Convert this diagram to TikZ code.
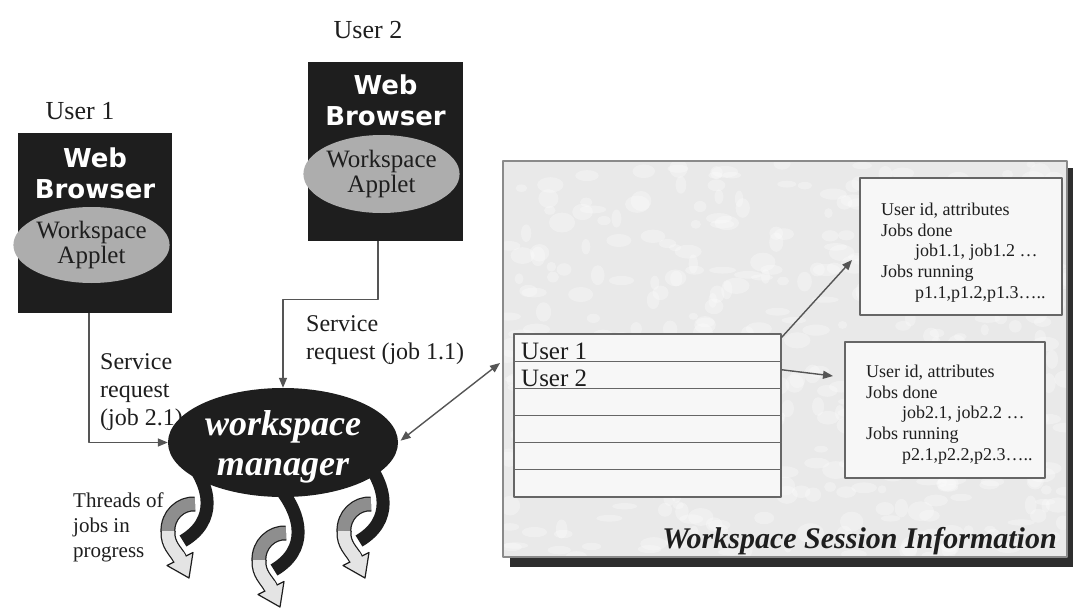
\documentclass[tikz,border=0pt]{standalone}
\usepackage{fontspec}
\setmainfont{Liberation Serif}
\newfontfamily\websans{DejaVu Sans}
\usetikzlibrary{arrows.meta,shapes.geometric}

\definecolor{ink}{HTML}{1E1E1E}
\definecolor{wire}{HTML}{555555}
\definecolor{appletgray}{HTML}{ADADAD}
\definecolor{ribbon}{HTML}{8E8E8E}
\definecolor{ribbonlight}{HTML}{E4E4E4}
\definecolor{panelfill}{HTML}{E9E9E9}
\definecolor{panelline}{HTML}{8A8A8A}
\definecolor{panelshadow}{HTML}{2E2E2E}
\definecolor{cellfill}{HTML}{F7F7F7}

\tikzset{
  browser/.style={rectangle, fill=ink, inner sep=0pt},
  webtitle/.style={text=white, font=\websans\bfseries\fontsize{26}{31}\selectfont,
    align=center, inner sep=0pt, anchor=north},
  applet/.style={ellipse, fill=appletgray, inner sep=0pt, align=center, text=ink,
    font=\fontsize{25}{25}\selectfont},
  userlabel/.style={font=\fontsize{26}{26}\selectfont, text=ink, inner sep=0pt, anchor=base},
  note/.style={font=\fontsize{24}{28}\selectfont, text=ink, align=left, inner sep=0pt,
    anchor=north west},
  threadnote/.style={font=\fontsize{21}{25}\selectfont, text=ink, align=left, inner sep=0pt,
    anchor=north west},
  wire/.style={draw=wire, line width=1.4pt},
  tipend/.style={-{Triangle[length=10pt,width=8pt]}},
  tipboth/.style={{Triangle[length=10pt,width=8pt]}-{Triangle[length=10pt,width=8pt]}},
  manager/.style={ellipse, fill=ink, minimum width=230pt, minimum height=109pt, inner sep=0pt},
  managertext/.style={text=white, font=\bfseries\itshape\fontsize{36}{40}\selectfont,
    align=center, inner sep=0pt},
  tabrow/.style={rectangle, draw=black!60, line width=1.2pt, fill=cellfill,
    minimum width=267pt, minimum height=27.17pt, inner sep=0pt},
  rowtext/.style={font=\fontsize{25}{25}\selectfont, text=ink, inner sep=0pt, anchor=base west},
  infobox/.style={rectangle, draw=black!60, line width=1.2pt, fill=cellfill, inner sep=0pt},
  infotext/.style={font=\fontsize{18}{20.8}\selectfont, text=ink, align=left, inner sep=0pt,
    anchor=north west},
  jobthread/.pic={
    % back (gray) side of the twisted ribbon
    \draw[line width=15pt, ink] (-2,7) .. controls (-16,6) and (-30,18) .. (-29,35);
    \draw[line width=12.5pt, ribbon] (-2,7) .. controls (-16,6) and (-30,18) .. (-29,35);
    % front (light) side ending in the arrow head
    \draw[line width=15pt, ink] (-29,34) .. controls (-30,48) and (-21,54) .. (-17,62);
    \draw[line width=12.5pt, ribbonlight] (-29,34) .. controls (-30,48) and (-21,54) .. (-17,62);
    \filldraw[fill=ribbonlight, draw=ink, line width=1.2pt]
      (-4,55.5) -- (-8,81) -- (-30,68.5) -- cycle;
    \draw[line width=12.5pt, ribbonlight] (-19,58) -- (-16,64);
    % black band hanging from the manager
    \draw[line width=13pt, ink] (-10,-40) .. controls (15,-10) and (20,24) .. (-14,44);
  }
}

\begin{document}
\begin{tikzpicture}[x=1pt, y=-1pt, line join=round]
  \useasboundingbox (0,0) rectangle (1073,610);
  \fill[white] (0,0) rectangle (1073,610);

  % session information panel with drop shadow and faintly mottled surface
  \fill[panelshadow] (510,168) rectangle (1073,567);
  \node[fill=panelfill, minimum width=564pt, minimum height=396pt, inner sep=0pt]
    (panel) at (785,359) {};
  \begin{scope}
    \clip (panel.north west) rectangle (panel.south east);
    \pgfmathsetseed{12}
    \foreach \i in {1,...,420}{
      \pgfmathsetmacro\px{503+564*rnd}
      \pgfmathsetmacro\py{161+396*rnd}
      \pgfmathsetmacro\rx{4+10*rnd}
      \pgfmathsetmacro\ry{3+7*rnd}
      \fill[white, opacity=0.3] (\px,\py) ellipse [x radius=\rx, y radius=\ry];
    }
  \end{scope}
  \draw[panelline, line width=1.5pt] (panel.north west) rectangle (panel.south east);
  \node[font=\bfseries\itshape\fontsize{30}{30}\selectfont, text=ink, inner sep=0pt,
        anchor=base east] (paneltitle) at (1057,548) {Workspace Session Information};

  % user table
  \node[tabrow] (r1) at (647.5,347.6) {};
  \node[tabrow] (r2) at (647.5,374.75) {};
  \node[tabrow] (r3) at (647.5,401.9) {};
  \node[tabrow] (r4) at (647.5,429.1) {};
  \node[tabrow] (r5) at (647.5,456.25) {};
  \node[tabrow] (r6) at (647.5,483.4) {};
  \node[rowtext] (u1row) at (521,359) {User 1};
  \node[rowtext] (u2row) at (521,386) {User 2};

  % per-user records
  \node[infobox, minimum width=202pt, minimum height=137pt] (box1) at (961,246.5) {};
  \node[infotext] (info1) at (881,202.7) {User id, attributes\\Jobs done\\
    \hspace*{34pt}job1.1, job1.2 …\\Jobs running\\\hspace*{34pt}p1.1,p1.2,p1.3…..};
  \node[infobox, minimum width=200pt, minimum height=136pt] (box2) at (945,410) {};
  \node[infotext] (info2) at (866,364.7) {User id, attributes\\Jobs done\\
    \hspace*{36pt}job2.1, job2.2 …\\Jobs running\\\hspace*{36pt}p2.1,p2.2,p2.3…..};

  \coordinate (box1tip) at (852,260);
  \coordinate (box2tip) at (833,376);
  \draw[wire, tipend] ([yshift=-4pt]r1.north east) -- (box1tip);
  \draw[wire, tipend] ([yshift=5pt]r2.east) -- (box2tip);

  % user 1 browser
  \node[userlabel] (user1) at (80,119) {User 1};
  \node[browser, minimum width=154pt, minimum height=180pt] (b1) at (95,223) {};
  \node[webtitle] (t1) at (95,147.7) {Web\\Browser};
  \node[applet, minimum width=143pt, minimum height=76pt] (a1) at (91.5,245) {Workspace\\Applet};

  % user 2 browser
  \node[userlabel] (user2) at (368,39) {User 2};
  \node[browser, minimum width=155pt, minimum height=179pt] (b2) at (385.5,151.5) {};
  \node[webtitle] (t2) at (385.5,74.7) {Web\\Browser};
  \node[applet, minimum width=143pt, minimum height=78pt] (a2) at (381.5,174) {Workspace\\Applet};

  % request labels
  \node[note] (req2) at (100,353.6) {Service\\request\\(job 2.1)};
  \node[note] (req1) at (306,315.6) {Service\\request (job 1.1)};
  \node[threadnote] (threadlabel) at (73,492.7) {Threads of\\jobs in\\progress};

  % job threads below the manager
  \pic at (197,497) {jobthread};
  \pic at (288,526) {jobthread};
  \pic at (373,497) {jobthread};

  % workspace manager
  \node[manager] (wm) at (283,442.5) {};
  \node[managertext] (wmtext) at (283,447) {workspace\\manager};

  % connectors
  \draw[wire, tipend] ([xshift=-6pt]b1.south) |- (wm.west);
  \draw[wire, tipend] ([xshift=-7.5pt]b2.south) -- ++(0,58) -| (wm.north);
  \coordinate (tabL) at (500,363);
  \draw[wire, tipboth, shorten <=3pt] (wm.east) -- (tabL);
\end{tikzpicture}
\end{document}
